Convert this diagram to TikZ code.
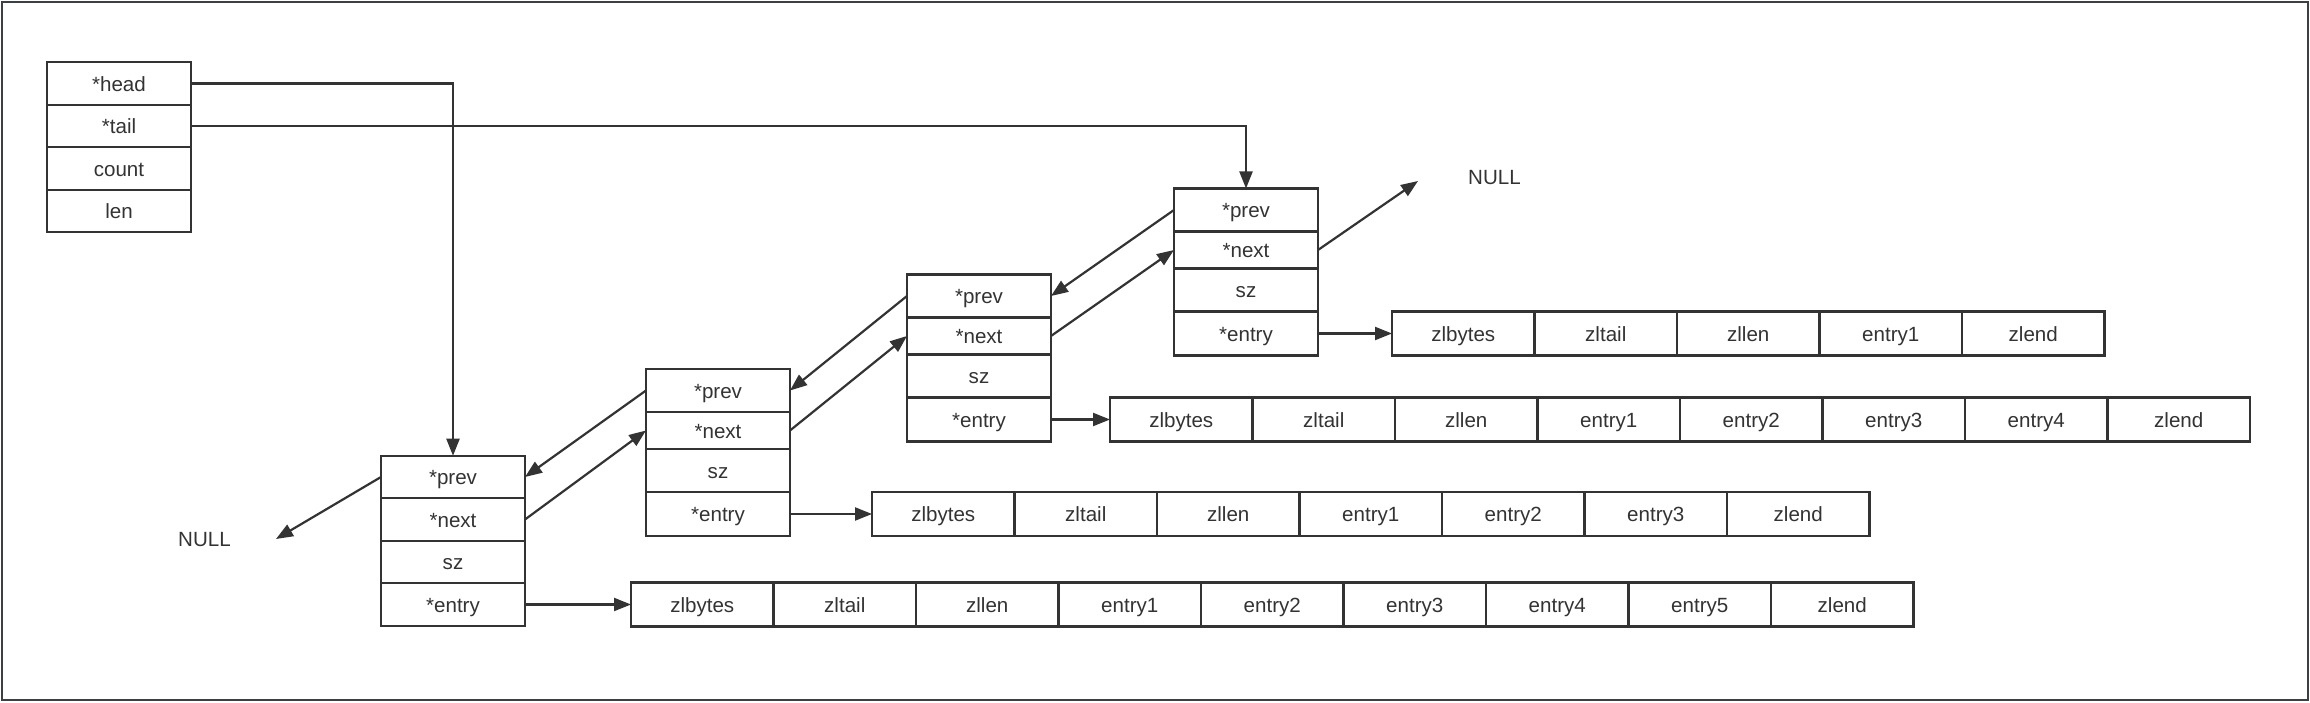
\documentclass[tikz,border=0pt]{standalone}
\usepackage{fontspec}
\setmainfont{Liberation Sans}
\usepackage{xcolor}
\usetikzlibrary{arrows.meta}
\usetikzlibrary{positioning}

\begin{document}
\begin{tikzpicture}[x=0.2mm, y=-0.2mm,
		field/.style={draw=LINE_GRAY, line width=0.44mm, fill=WHITE, text=TEXT_GRAY, outer sep=0pt, inner sep=0pt,
			minimum width=28.8mm, text height=3.5mm, text depth=0.3mm, font=\fontsize{11.7}{14}\selectfont},
		cell/.style={field, minimum width=28.5mm, minimum height=8.8mm},
		hrow/.style={minimum height=8.5mm},
		prow/.style={minimum height=8.6mm},
		nrow/.style={minimum height=7.4mm},
		srow/.style={minimum height=8.6mm},
		erow/.style={minimum height=8.8mm},
		ptr/.style={draw=LINE_GRAY, line width=0.44mm, -{Triangle[length=3.4mm, width=2.6mm]}},
		nulltxt/.style={text=TEXT_GRAY, font=\fontsize{11.7}{14}\selectfont}]
				\definecolor{WHITE}{RGB}{255, 255, 255}
				\definecolor{LINE_GRAY}{RGB}{51, 51, 51}
				\definecolor{TEXT_GRAY}{RGB}{51, 51, 51}
				\definecolor{FRAME_GRAY}{RGB}{60, 64, 67}

				\useasboundingbox (0, 0) rectangle (2310, 703);
				\draw[draw=FRAME_GRAY, line width=0.5mm] (2, 2) rectangle (2308, 700);

				\begin{scope}
					\node[field, hrow] (head) at (119, 83.5) {*head};
					\node[field, hrow, below=0pt of head] (tail) {*tail};
					\node[field, hrow, below=0pt of tail] (count) {count};
					\node[field, hrow, below=0pt of count] (len) {len};
				\end{scope}

				\begin{scope}
					\node[field, hrow] (n1prev) at (453, 477) {*prev};
					\node[field, hrow, below=0pt of n1prev] (n1next) {*next};
					\node[field, hrow, below=0pt of n1next] (n1sz) {sz};
					\node[field, hrow, below=0pt of n1sz] (n1entry) {*entry};
				\end{scope}

				\begin{scope}
					\node[field, prow] (n2prev) at (718, 390.5) {*prev};
					\node[field, nrow, below=0pt of n2prev] (n2next) {*next};
					\node[field, srow, below=0pt of n2next] (n2sz) {sz};
					\node[field, erow, below=0pt of n2sz] (n2entry) {*entry};
				\end{scope}

				\begin{scope}
					\node[field, prow] (n3prev) at (979, 296) {*prev};
					\node[field, nrow, below=0pt of n3prev] (n3next) {*next};
					\node[field, srow, below=0pt of n3next] (n3sz) {sz};
					\node[field, erow, below=0pt of n3sz] (n3entry) {*entry};
				\end{scope}

				\begin{scope}
					\node[field, prow] (n4prev) at (1246, 210) {*prev};
					\node[field, nrow, below=0pt of n4prev] (n4next) {*next};
					\node[field, srow, below=0pt of n4next] (n4sz) {sz};
					\node[field, erow, below=0pt of n4sz] (n4entry) {*entry};
				\end{scope}

				\begin{scope}
					\node[cell, right=21.2mm of n1entry] (zl1c1) {zlbytes};
					\node[cell, right=0pt of zl1c1] (zl1c2) {zltail};
					\node[cell, right=0pt of zl1c2] (zl1c3) {zllen};
					\node[cell, right=0pt of zl1c3] (zl1c4) {entry1};
					\node[cell, right=0pt of zl1c4] (zl1c5) {entry2};
					\node[cell, right=0pt of zl1c5] (zl1c6) {entry3};
					\node[cell, right=0pt of zl1c6] (zl1c7) {entry4};
					\node[cell, right=0pt of zl1c7] (zl1c8) {entry5};
					\node[cell, right=0pt of zl1c8] (zl1c9) {zlend};
				\end{scope}

				\begin{scope}
					\node[cell, right=16.4mm of n2entry] (zl2c1) {zlbytes};
					\node[cell, right=0pt of zl2c1] (zl2c2) {zltail};
					\node[cell, right=0pt of zl2c2] (zl2c3) {zllen};
					\node[cell, right=0pt of zl2c3] (zl2c4) {entry1};
					\node[cell, right=0pt of zl2c4] (zl2c5) {entry2};
					\node[cell, right=0pt of zl2c5] (zl2c6) {entry3};
					\node[cell, right=0pt of zl2c6] (zl2c7) {zlend};
				\end{scope}

				\begin{scope}
					\node[cell, right=11.8mm of n3entry] (zl3c1) {zlbytes};
					\node[cell, right=0pt of zl3c1] (zl3c2) {zltail};
					\node[cell, right=0pt of zl3c2] (zl3c3) {zllen};
					\node[cell, right=0pt of zl3c3] (zl3c4) {entry1};
					\node[cell, right=0pt of zl3c4] (zl3c5) {entry2};
					\node[cell, right=0pt of zl3c5] (zl3c6) {entry3};
					\node[cell, right=0pt of zl3c6] (zl3c7) {entry4};
					\node[cell, right=0pt of zl3c7] (zl3c8) {zlend};
				\end{scope}

				\begin{scope}
					\node[cell, right=14.8mm of n4entry] (zl4c1) {zlbytes};
					\node[cell, right=0pt of zl4c1] (zl4c2) {zltail};
					\node[cell, right=0pt of zl4c2] (zl4c3) {zllen};
					\node[cell, right=0pt of zl4c3] (zl4c4) {entry1};
					\node[cell, right=0pt of zl4c4] (zl4c5) {zlend};
				\end{scope}

				\node[nulltxt] (nullleft) at (204.5, 540) {NULL};
				\node[nulltxt] (nullright) at (1494.5, 177.5) {NULL};
				\coordinate (nullleftend) at (276, 539);
				\coordinate (nullrightend) at (1418, 181);

				\draw[ptr] (head.east) -| (n1prev.north);
				\draw[ptr] (tail.east) -| (n4prev.north);

				\draw[ptr] (n1prev.west) -- (nullleftend);
				\draw[ptr] (n2prev.west) -- (n1prev.east);
				\draw[ptr] (n3prev.west) -- (n2prev.east);
				\draw[ptr] (n4prev.west) -- (n3prev.east);

				\draw[ptr] (n1next.east) -- (n2next.west);
				\draw[ptr] (n2next.east) -- (n3next.west);
				\draw[ptr] (n3next.east) -- (n4next.west);
				\draw[ptr] (n4next.east) -- (nullrightend);

				\draw[ptr] (n1entry.east) -- (zl1c1.west);
				\draw[ptr] (n2entry.east) -- (zl2c1.west);
				\draw[ptr] (n3entry.east) -- (zl3c1.west);
				\draw[ptr] (n4entry.east) -- (zl4c1.west);
			\end{tikzpicture}
\end{document}
